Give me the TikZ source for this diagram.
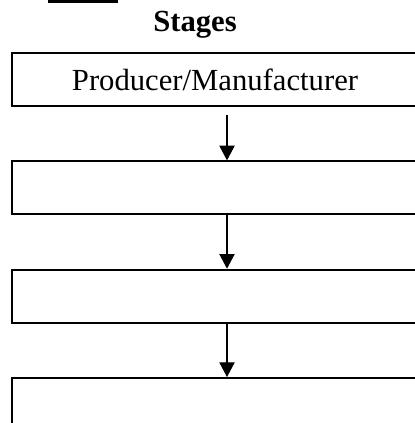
\documentclass[tikz,border=0pt]{standalone}
\usepackage{fontspec}
\setmainfont{Liberation Serif}
\usetikzlibrary{arrows.meta, positioning}

\begin{document}
\begin{tikzpicture}[
    x=0.75pt, y=-0.75pt,
    every node/.style={font=\fontsize{23}{27}\selectfont},
    stagebox/.style={draw, line width=1.5pt, minimum width=304.5pt, minimum height=39.75pt, inner sep=0pt},
    arrow/.style={draw, line width=0.8pt, -{Triangle[width=11.5pt,length=11pt]}},
    node distance=40pt
]
    \useasboundingbox (0,0) rectangle (414,423);

    % Heading
    \fill (48,0) rectangle (118,3.5);
    \node[anchor=base, font=\fontsize{23}{27}\selectfont\bfseries] (title) at (195,32) {Stages};

    % Stages
    \node[stagebox] (producer) at (215,79.5) {Producer/Manufacturer};
    \node[stagebox, below=of producer] (stage2) {};
    \node[stagebox, below=of stage2] (stage3) {};
    \node[stagebox, below=of stage3] (stage4) {};

    % Arrows
    \draw[arrow, shorten <=6pt] ([xshift=9pt]producer.south) -- ([xshift=9pt]stage2.north);
    \draw[arrow] ([xshift=9pt]stage2.south) -- ([xshift=9pt]stage3.north);
    \draw[arrow] ([xshift=9pt]stage3.south) -- ([xshift=9pt]stage4.north);

\end{tikzpicture}
\end{document}
